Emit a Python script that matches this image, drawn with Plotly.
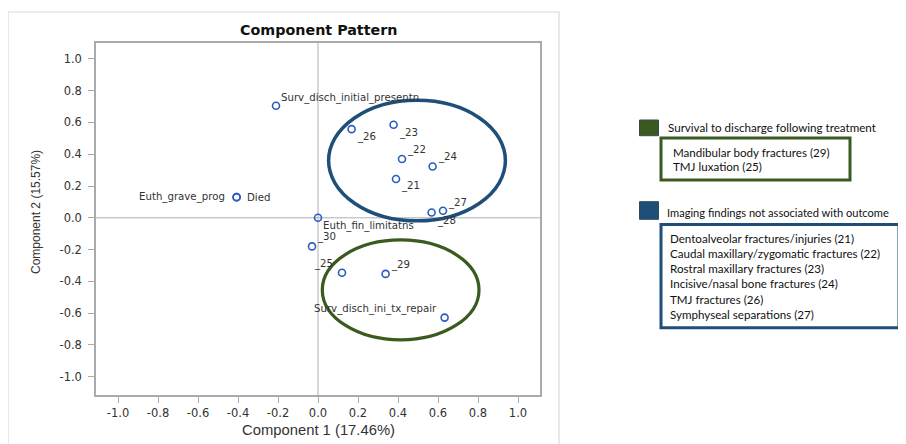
import plotly.graph_objects as go

# ---- data ----
labels = ["Surv_disch_initial_presentn", "_26", "_23", "_22", "_24", "_21",
          "Euth_grave_prog", "Died", "_27", "_28", "Euth_fin_limitatns",
          "_30", "_25", "_29", "Surv_disch_ini_tx_repair"]
pc1 = [-0.21, 0.168, 0.378, 0.42, 0.573, 0.39,
       -0.407, -0.407, 0.625, 0.568, 0.0,
       -0.03, 0.12, 0.338, 0.633]
pc2 = [0.705, 0.558, 0.586, 0.37, 0.323, 0.244,
       0.13, 0.13, 0.044, 0.033, 0.0,
       -0.18, -0.346, -0.353, -0.628]
tick_vals = [-1.0, -0.8, -0.6, -0.4, -0.2, 0.0, 0.2, 0.4, 0.6, 0.8, 1.0]
tick_text = ["-1.0", "-0.8", "-0.6", "-0.4", "-0.2", "0.0", "0.2", "0.4", "0.6", "0.8", "1.0"]

blue_group_title = "Imaging findings not associated with outcome"
blue_group_items = ["Dentoalveolar fractures/injuries (21)",
                    "Caudal maxillary/zygomatic fractures (22)",
                    "Rostral maxillary fractures (23)",
                    "Incisive/nasal bone fractures (24)",
                    "TMJ fractures (26)",
                    "Symphyseal separations (27)"]
green_group_title = "Survival to discharge following treatment"
green_group_items = ["Mandibular body fractures (29)", "TMJ luxation (25)"]

# label placement: (xanchor, xshift, yshift)
label_pos = {
    "Surv_disch_initial_presentn": ("left", 3, 8),
    "_26": ("left", 3, -8),
    "_23": ("left", 3, -8),
    "_22": ("left", 3, 9),
    "_24": ("left", 3, 9),
    "_21": ("left", 3, -7),
    "Euth_grave_prog": ("right", -10, 0),
    "Died": ("left", 8, 0),
    "_27": ("left", 3, 8),
    "_28": ("left", 3, -8),
    "Euth_fin_limitatns": ("left", 3, -8),
    "_30": ("left", 3, 9),
    "_25": ("right", -7, 9),
    "_29": ("left", 3, 9),
    "Surv_disch_ini_tx_repair": ("right", -6, 9),
}

BLUE = "#1f4e79"
GREEN = "#3b5a1f"
OFF = 8  # page body margin
W, H = 906 - OFF, 444 - OFF
PL, PR, PT, PB = 96, 540, 43, 395  # plot area in screen pixels


def px(x):
    return (x - PL) / (PR - PL)


def py(y):
    return (PB - y) / (PB - PT)


fig = go.Figure()
fig.add_trace(go.Scatter(
    x=pc1, y=pc2, mode="markers",
    marker=dict(symbol="circle-open", size=7, color="#2b5cc4", line=dict(width=1.6)),
    hovertext=labels, showlegend=False, cliponaxis=False))

annotations = []
for lab, x, y in zip(labels, pc1, pc2):
    xa, xs, ys = label_pos[lab]
    annotations.append(dict(x=x, y=y, xref="x", yref="y", text=lab, showarrow=False,
                            xanchor=xa, yanchor="middle", xshift=xs, yshift=ys,
                            font=dict(family="DejaVu Sans", size=10.2, color="#333333")))

# title
annotations.append(dict(x=px(318), y=py(30), xref="paper", yref="paper",
                        text="<b>Component Pattern</b>", showarrow=False,
                        xanchor="center", yanchor="middle",
                        font=dict(family="DejaVu Sans", size=14.3, color="#111111")))

# axis titles
annotations.append(dict(x=px(318), y=py(430), xref="paper", yref="paper",
                        text="Component 1 (17.46%)", showarrow=False,
                        xanchor="center", yanchor="middle",
                        font=dict(family="Liberation Sans", size=14.8, color="#333333")))
annotations.append(dict(x=px(36), y=py(212), xref="paper", yref="paper",
                        text="Component 2 (15.57%)", showarrow=False, textangle=-90,
                        xanchor="center", yanchor="middle",
                        font=dict(family="Liberation Sans", size=12, color="#333333")))

LEG_FONT = dict(family="Lato", size=11.6, color="#111111")
annotations.append(dict(x=px(666), y=py(127.5), xref="paper", yref="paper",
                        text=green_group_title, showarrow=False, xanchor="left",
                        yanchor="middle", font=LEG_FONT))
for i, t in enumerate(green_group_items):
    annotations.append(dict(x=px(670.5), y=py(152.3 + i * 14.4), xref="paper", yref="paper",
                            text=t, showarrow=False, xanchor="left", yanchor="middle",
                            font=LEG_FONT))
annotations.append(dict(x=px(665), y=py(212.3), xref="paper", yref="paper",
                        text=blue_group_title, showarrow=False, xanchor="left",
                        yanchor="middle", font=dict(family="Lato", size=11.1, color="#111111")))
for i, t in enumerate(blue_group_items):
    annotations.append(dict(x=px(668), y=py(238.3 + i * 15.2), xref="paper", yref="paper",
                            text=t, showarrow=False, xanchor="left", yanchor="middle",
                            font=LEG_FONT))

shapes = [
    # outer frame
    dict(type="rect", xref="paper", yref="paper", x0=px(8), x1=px(559), y0=py(470), y1=py(12),
         line=dict(color="#d9d9d9", width=1.2), layer="below"),
    # reference lines
    dict(type="line", xref="x", yref="paper", x0=0, x1=0, y0=0, y1=1,
         line=dict(color="#b0b0b0", width=1), layer="below"),
    dict(type="line", xref="paper", yref="y", x0=0, x1=1, y0=0, y1=0,
         line=dict(color="#b0b0b0", width=1), layer="below"),
    # group ellipses
    dict(type="circle", xref="x", yref="y", x0=0.053, x1=0.937, y0=-0.019, y1=0.739,
         line=dict(color=BLUE, width=3.5)),
    dict(type="circle", xref="x", yref="y", x0=0.0215, x1=0.805, y0=-0.768, y1=-0.139,
         line=dict(color=GREEN, width=3.2)),
    # legend swatches and boxes
    dict(type="rect", xref="paper", yref="paper", x0=px(639.5), x1=px(658.5), y0=py(135.7), y1=py(120),
         fillcolor=GREEN, line=dict(color="#2f4a5a", width=1)),
    dict(type="rect", xref="paper", yref="paper", x0=px(661), x1=px(850), y0=py(180), y1=py(138),
         line=dict(color=GREEN, width=3)),
    dict(type="rect", xref="paper", yref="paper", x0=px(639.5), x1=px(658.5), y0=py(219.3), y1=py(201.7),
         fillcolor=BLUE, line=dict(color="#2f4a5a", width=1)),
    dict(type="rect", xref="paper", yref="paper", x0=px(661), x1=px(899), y0=py(327.7), y1=py(224.5),
         line=dict(color=BLUE, width=3)),
]

axis_common = dict(
    tickvals=tick_vals, ticktext=tick_text, showgrid=False, zeroline=False,
    ticks="outside", ticklen=6, tickcolor="#aaaaaa", tickwidth=1,
    showline=True, linecolor="#aaaaaa", linewidth=1.5, mirror=True, automargin=False,
    tickfont=dict(family="DejaVu Sans", size=11.5, color="#333333"),
)

fig.update_layout(
    width=W, height=H,
    margin=dict(l=PL - OFF, r=W - (PR - OFF), t=PT - OFF, b=H - (PB - OFF), autoexpand=False),
    paper_bgcolor="white", plot_bgcolor="white",
    xaxis=dict(range=[-1.11, 1.11], **axis_common),
    yaxis=dict(range=[-1.115, 1.10], ticklabelstandoff=4, **axis_common),
    annotations=annotations, shapes=shapes,
)

fig.write_html("out.html")
